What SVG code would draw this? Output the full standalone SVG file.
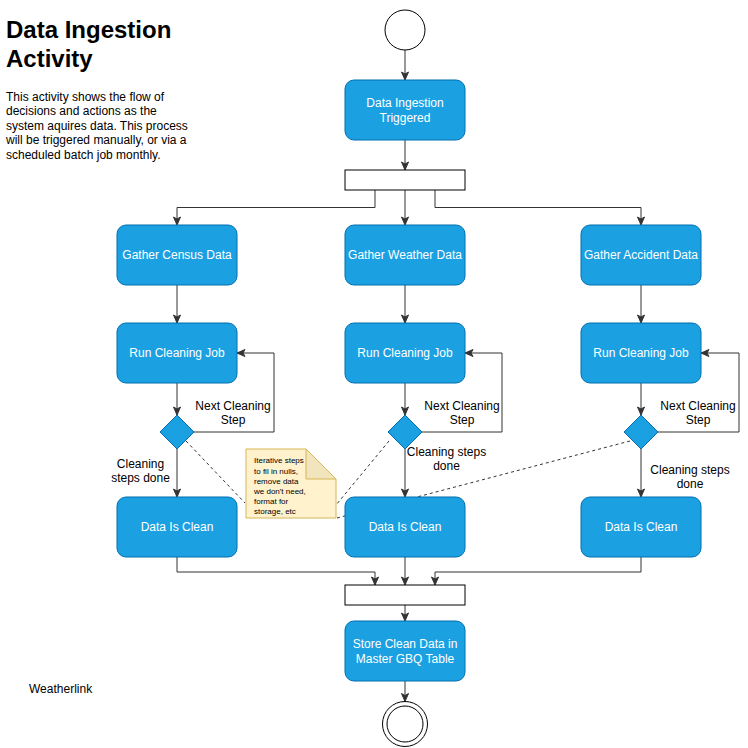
<svg xmlns="http://www.w3.org/2000/svg" width="748" height="748" viewBox="0 0 748 748">
<style>
.act{fill:#1ba1e2;stroke:#006eaf;stroke-width:1}
.at{font-family:"Liberation Sans",Arial,Helvetica,sans-serif;font-size:12px;fill:#ffffff;text-anchor:middle}
.lbl{font-family:"Liberation Sans",Arial,Helvetica,sans-serif;font-size:12px;fill:#000000;text-anchor:middle}
.bar{fill:#ffffff;stroke:#000000;stroke-width:1}
.e{fill:none;stroke:#333333;stroke-width:1;marker-end:url(#arr)}
.dash{fill:none;stroke:#333333;stroke-width:1;stroke-dasharray:3 3}
.txt{font-family:"Liberation Sans",Arial,Helvetica,sans-serif;fill:#000000}
</style>
<defs>
<marker id="arr" markerUnits="userSpaceOnUse" markerWidth="10" markerHeight="10" viewBox="0 0 10 10" refX="9" refY="5" orient="auto">
<path d="M1,1.5 L9,5 L1,8.5 L3,5 Z" fill="#333333" stroke="#333333" stroke-width="1"/>
</marker>
</defs>
<rect width="748" height="748" fill="#ffffff"/>

<g id="title">
<text class="txt" x="6" y="38" font-size="24" font-weight="bold">Data Ingestion</text>
<text class="txt" x="6" y="67" font-size="24" font-weight="bold">Activity</text>
<text class="txt" font-size="12"><tspan x="6" y="100.5">This activity shows the flow of</tspan><tspan x="6" y="115">decisions and actions as the</tspan><tspan x="6" y="129.5">system aquires data. This process</tspan><tspan x="6" y="144">will be triggered manually, or via a</tspan><tspan x="6" y="158.5">scheduled batch job monthly.</tspan></text>
</g>
<g id="weatherlink"><text class="txt" x="29" y="692.5" font-size="12">Weatherlink</text></g>

<g id="notelinks">
<path class="dash" d="M186,441 L245,503"/>
<path class="dash" d="M389,441 L336,505"/>
<path class="dash" d="M630,441 L337,518"/>
</g>

<g id="connectors">
<path class="e" d="M405,50 L405,80"/>
<path class="e" d="M405,140 L405,170"/>
<path class="e" d="M375,190 L375,207.5 L177,207.5 L177,225"/>
<path class="e" d="M405,190 L405,225"/>
<path class="e" d="M435,190 L435,207.5 L641,207.5 L641,225"/>
<path class="e" d="M177,285 L177,323"/>
<path class="e" d="M405,285 L405,323"/>
<path class="e" d="M641,285 L641,323"/>
<path class="e" d="M177,383 L177,415"/>
<path class="e" d="M405,383 L405,415"/>
<path class="e" d="M641,383 L641,415"/>
<path class="e" d="M177,449 L177,497"/>
<path class="e" d="M405,449 L405,497"/>
<path class="e" d="M641,449 L641,497"/>
<path class="e" d="M194,432 L274,432 L274,353 L237,353"/>
<path class="e" d="M422,432 L502,432 L502,353 L465,353"/>
<path class="e" d="M658,432 L739,432 L739,353 L701,353"/>
<path class="e" d="M177,557 L177,572 L375,572 L375,585"/>
<path class="e" d="M405,557 L405,585"/>
<path class="e" d="M641,557 L641,572 L435,572 L435,585"/>
<path class="e" d="M405,605 L405,621"/>
<path class="e" d="M405,681 L405,701.5"/>
<text class="lbl"><tspan x="233" y="410">Next Cleaning</tspan><tspan x="233" y="424">Step</tspan></text>
<text class="lbl"><tspan x="462" y="410">Next Cleaning</tspan><tspan x="462" y="424">Step</tspan></text>
<text class="lbl"><tspan x="698" y="410">Next Cleaning</tspan><tspan x="698" y="424">Step</tspan></text>
<text class="lbl"><tspan x="140.5" y="468">Cleaning</tspan><tspan x="140.5" y="482">steps done</tspan></text>
<text class="lbl"><tspan x="446.5" y="456">Cleaning steps</tspan><tspan x="446.5" y="470">done</tspan></text>
<text class="lbl"><tspan x="690" y="474">Cleaning steps</tspan><tspan x="690" y="488">done</tspan></text>
</g>

<g id="start"><circle cx="405" cy="30" r="20" fill="#ffffff" stroke="#000000"/></g>
<g id="triggered"><rect class="act" x="345" y="80" width="120" height="60" rx="9"/><text class="at"><tspan x="405" y="107">Data Ingestion</tspan><tspan x="405" y="122">Triggered</tspan></text></g>
<g id="fork"><rect class="bar" x="345" y="170" width="120" height="20"/></g>

<g id="census"><rect class="act" x="117" y="225" width="120" height="60" rx="9"/><text class="at" x="177" y="259">Gather Census Data</text></g>
<g id="weather"><rect class="act" x="345" y="225" width="120" height="60" rx="9"/><text class="at" x="405" y="259">Gather Weather Data</text></g>
<g id="accident"><rect class="act" x="581" y="225" width="120" height="60" rx="9"/><text class="at" x="641" y="259">Gather Accident Data</text></g>

<g id="clean1"><rect class="act" x="117" y="323" width="120" height="60" rx="9"/><text class="at" x="177" y="357">Run Cleaning Job</text></g>
<g id="clean2"><rect class="act" x="345" y="323" width="120" height="60" rx="9"/><text class="at" x="405" y="357">Run Cleaning Job</text></g>
<g id="clean3"><rect class="act" x="581" y="323" width="120" height="60" rx="9"/><text class="at" x="641" y="357">Run Cleaning Job</text></g>

<g id="dec1"><path class="act" d="M177,415 L194,432 L177,449 L160,432 Z"/></g>
<g id="dec2"><path class="act" d="M405,415 L422,432 L405,449 L388,432 Z"/></g>
<g id="dec3"><path class="act" d="M641,415 L658,432 L641,449 L624,432 Z"/></g>

<g id="done1"><rect class="act" x="117" y="497" width="120" height="60" rx="9"/><text class="at" x="177" y="531">Data Is Clean</text></g>
<g id="done2"><rect class="act" x="345" y="497" width="120" height="60" rx="9"/><text class="at" x="405" y="531">Data Is Clean</text></g>
<g id="done3"><rect class="act" x="581" y="497" width="120" height="60" rx="9"/><text class="at" x="641" y="531">Data Is Clean</text></g>

<g id="note">
<path d="M246,449 L306,449 L336,479 L336,518 L246,518 Z" fill="#fff2cc" stroke="#d6b656"/>
<path d="M306,449 L306,479 L336,479 Z" fill="#f2e4bd" stroke="#d6b656"/>
<text class="txt" font-size="8"><tspan x="254" y="463">Iterative steps</tspan><tspan x="254" y="473.5">to fil in nulls,</tspan><tspan x="254" y="484">remove data</tspan><tspan x="254" y="494">we don't need,</tspan><tspan x="254" y="504">format for</tspan><tspan x="254" y="514">storage, etc</tspan></text>
</g>

<g id="join"><rect class="bar" x="345" y="585" width="120" height="20"/></g>
<g id="store"><rect class="act" x="345" y="621" width="120" height="60" rx="9"/><text class="at"><tspan x="405" y="648">Store Clean Data in</tspan><tspan x="405" y="663">Master GBQ Table</tspan></text></g>
<g id="end"><circle cx="405" cy="724" r="22.5" fill="#ffffff" stroke="#000000"/><circle cx="405" cy="724" r="18" fill="#ffffff" stroke="#000000"/></g>
</svg>
